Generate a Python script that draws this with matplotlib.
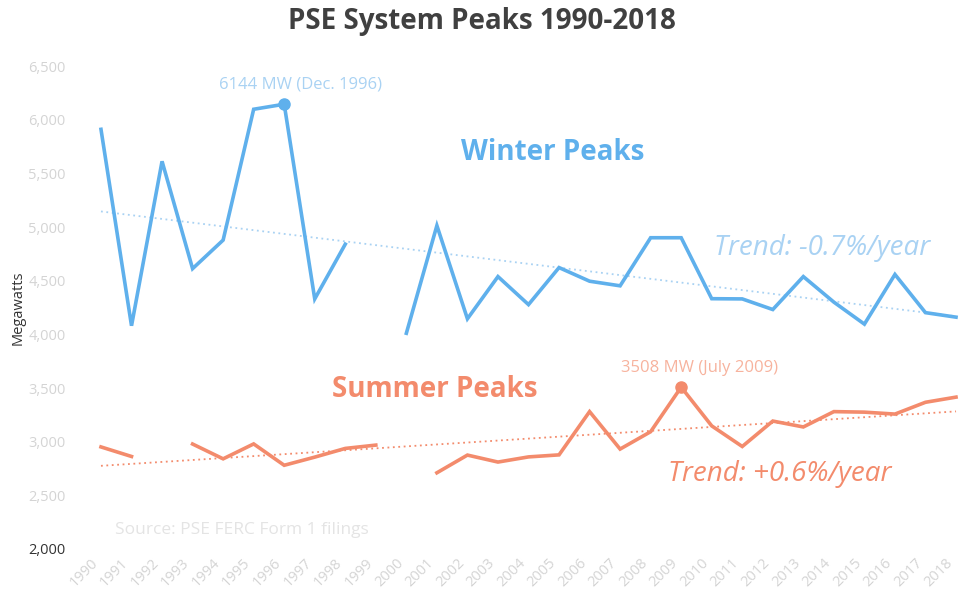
import numpy as np
import matplotlib
matplotlib.use("Agg")
import matplotlib.pyplot as plt

years = list(range(1990, 2019))
winter = [5910, 4080, 5612, 4612, 4878, 6097, 6144, 4330, 4840, np.nan,
          4010, 5013, 4145, 4538, 4277, 4622, 4495, 4452, 4900, 4900,
          4332, 4330, 4231, 4538, 4300, 4095, 4558, 4202, 4160]
summer = [2951, 2862, np.nan, 2978, 2840, 2979, 2780, 2856, 2937, 2968,
          np.nan, 2710, 2875, 2810, 2858, 2877, 3280, 2931, 3093, 3508,
          3147, 2955, 3192, 3137, 3280, 3275, 3257, 3367, 3415]
winter_trend_years = [1990, 2018]
winter_trend = [5145, 4168]
summer_trend_years = [1990, 2018]
summer_trend = [2775, 3282]
yticks = [2000, 2500, 3000, 3500, 4000, 4500, 5000, 5500, 6000, 6500]

plt.rcParams['font.family'] = ['Open Sans', 'DejaVu Sans']

blue = '#5fb0ec'
blue_light = '#a9d2f3'
salmon = '#f38b6c'
salmon_light = '#f7b39e'

fig = plt.figure(figsize=(9.6, 6.02), dpi=100)
ax = fig.add_axes([96.4/960, 1-549/602, 864.2/960, (549-66)/602])

ax.plot(winter_trend_years, winter_trend, color=blue_light, lw=1.3, ls=(0, (1, 2)))
ax.plot(summer_trend_years, summer_trend, color=salmon, lw=1.3, ls=(0, (1, 2)))
ax.plot(years, winter, color=blue, lw=2.6, solid_joinstyle='miter')
ax.plot(years, summer, color=salmon, lw=2.6, solid_joinstyle='miter')

i96 = years.index(1996)
ax.plot([1996], [winter[i96]], 'o', color=blue, ms=8)
i09 = years.index(2009)
ax.plot([2009], [summer[i09]], 'o', color=salmon, ms=8)

ax.set_xlim(1990 - 0.15, 2018 + 0.15)
ax.set_ylim(2000, 6500)
ax.set_yticks(yticks)
ax.set_yticklabels([f"{v:,}" for v in yticks])
ax.set_xticks(years)
ax.set_xticklabels([str(y) for y in years], rotation=45, ha='right')
ax.tick_params(axis='both', length=0, labelsize=10.5, colors='#d4d4d4')
ax.tick_params(axis='y', pad=22)
ax.tick_params(axis='x', pad=5)
ax.get_yticklabels()[0].set_color('#333333')
for s in ax.spines.values():
    s.set_visible(False)

fig.text(18/960, 1-308/602, "Megawatts", rotation=90, ha='center', va='center',
         fontsize=10.5, color='#333333')

fig.text(482/960, 1-22/602, "PSE System Peaks 1990-2018", ha='center', va='center',
         fontsize=20, fontweight='bold', color='#404040')

ax.text(1996.55, 6330, "6144 MW (Dec. 1996)", ha='center', va='center',
        fontsize=12, color=blue_light)
ax.text(2009.6, 3688, "3508 MW (July 2009)", ha='center', va='center',
        fontsize=12, color=salmon_light)

ax.text(2004.8, 5690, "Winter Peaks", ha='center', va='center', fontsize=20,
        fontweight='bold', color=blue)
ax.text(2000.94, 3483, "Summer Peaks", ha='center', va='center', fontsize=20,
        fontweight='bold', color=salmon)
ax.text(2013.6, 4808, "Trend: -0.7%/year", ha='center', va='center', fontsize=20,
        style='italic', color=blue_light)
ax.text(2012.23, 2700, "Trend: +0.6%/year", ha='center', va='center', fontsize=20,
        style='italic', color=salmon)
ax.text(1990.46, 2177, "Source: PSE FERC Form 1 filings", ha='left', va='center',
        fontsize=12.5, color='#e4e4e4')

fig.savefig("out.png", dpi=100)
